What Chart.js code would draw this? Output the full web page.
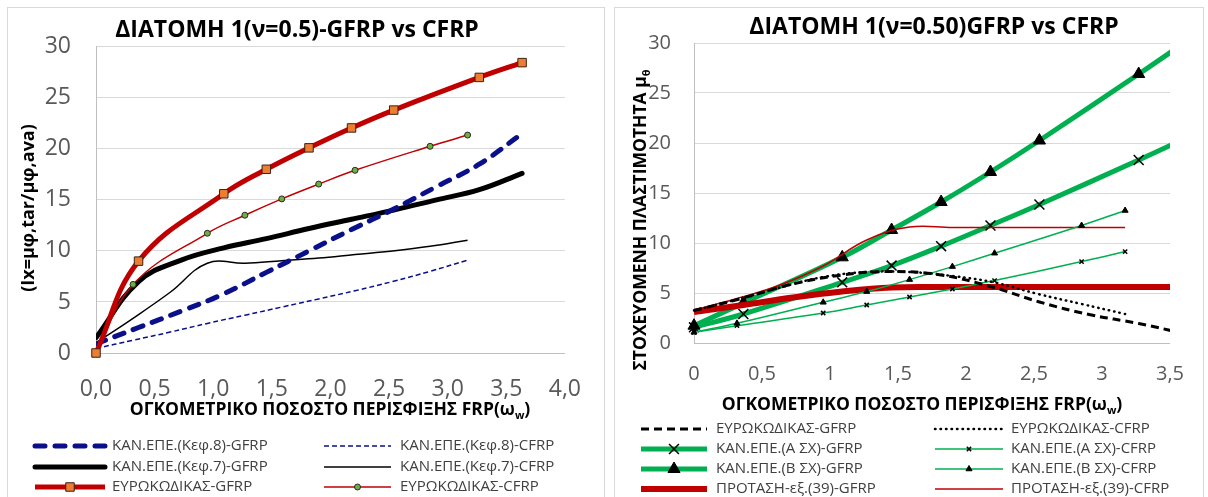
<!DOCTYPE html>
<html lang="el">
<head>
<meta charset="UTF-8">
<title>ΔΙΑΤΟΜΗ 1 — GFRP vs CFRP</title>
<script src="https://cdn.jsdelivr.net/npm/chart.js@4"></script>
<style>
  * { margin: 0; padding: 0; box-sizing: border-box; }
  body { width: 1208px; height: 497px; background: #fff; overflow: hidden; position: relative; }
  .panel { position: absolute; top: 7px; height: 500px; border: 1px solid #d9d9d9; }
  #leftPanel { left: 7px; width: 598px; }
  #rightPanel { left: 614px; width: 590px; }
  canvas { position: absolute; top: 8px; }
  #leftChart { left: 8px; }
  #rightChart { left: 615px; }
</style>
</head>
<body>
<div class="panel" id="leftPanel"></div>
<div class="panel" id="rightPanel"></div>
<canvas id="leftChart" width="596" height="489"></canvas>
<canvas id="rightChart" width="588" height="489"></canvas>

<script>
// ω_w values (shared by both charts)
const xG     = [0, 0.363, 1.09, 1.453, 1.817, 2.18, 2.54, 3.27, 3.635];
const xC     = [0, 0.316, 0.95, 1.27, 1.585, 1.90, 2.21, 2.85, 3.17];
const xGfull = [0, 0.363, 0.727, 1.09, 1.453, 1.817, 2.18, 2.54, 2.905, 3.27, 3.635];
const xCfull = [0, 0.316, 0.633, 0.95, 1.27, 1.585, 1.90, 2.21, 2.53, 2.85, 3.17];

// left chart: Ιx = μφ,tar / μφ,ava
const kep8G = [0.9, 2.5, 4.1, 5.8, 7.9, 10.0, 12.1, 14.1, 16.3, 18.5, 21.5];
const kep8C = [0.45, 1.25, 2.05, 2.9, 3.7, 4.5, 5.3, 6.1, 7.0, 8.0, 9.1];
const kep7G = [1.5, 7.0, 9.1, 10.3, 11.2, 12.2, 13.1, 14.0, 15.0, 16.0, 17.6];
const kep7C = [1.0, 3.4, 5.95, 8.8, 8.8, 9.05, 9.3, 9.65, 10.0, 10.45, 11.05];
const euroG = [0, 9.0, 15.6, 18.0, 20.1, 22.05, 23.8, 27.0, 28.45];
const euroC = [0, 6.72, 11.73, 13.5, 15.1, 16.55, 17.9, 20.25, 21.35];

// right chart: μθ
const ecRG  = [3.25, 4.5, 5.9, 6.8, 7.15, 6.8, 5.65, 4.1, 2.85, 1.95, 0.85];
const ecRC  = [3.25, 4.35, 5.55, 6.6, 7.1, 7.1, 6.7, 6.05, 4.9, 3.9, 2.9];
const aSxG  = [1.57, 2.9, 6.07, 7.74, 9.68, 11.75, 13.85, 18.3, 20.6];
const aSxC  = [1.07, 1.73, 3.0, 3.8, 4.6, 5.4, 6.24, 8.14, 9.14];
const bSxG  = [1.73, 4.0, 8.57, 11.3, 14.1, 17.1, 20.25, 26.9, 30.3];
const bSxC  = [1.07, 1.97, 4.07, 5.14, 6.34, 7.64, 8.98, 11.75, 13.25];
const protG = [3.1, 3.8, 4.55, 5.15, 5.55, 5.6, 5.6, 5.6, 5.6, 5.6, 5.6];
const protC = [3.3, 4.45, 5.8, 7.7, 10.3, 11.6, 11.55, 11.55, 11.55, 11.55, 11.55];

const FONT = "'Open Sans', 'Noto Sans', sans-serif";
const RED = '#c00000', NAVY = '#0a108a', GREEN = '#00b050';

const pts = (xs, ys) => xs.map((x, i) => ({ x, y: ys[i] }));

function line(label, data, style) {
  return Object.assign({ label, data, pointRadius: 0, tension: 0.4, fill: false, borderCapStyle: 'butt' }, style);
}

// text with an optional subscript part, centred on (x, y)
function drawParts(ctx, parts, x, y, size, weight, angle) {
  const main = `${weight} ${size}px ${FONT}`;
  const sub = `${weight} ${Math.round(size * 0.65)}px ${FONT}`;
  let w = 0;
  parts.forEach(([t, s]) => { ctx.font = s ? sub : main; w += ctx.measureText(t).width; });
  ctx.save();
  ctx.translate(x, y);
  ctx.rotate(angle || 0);
  ctx.textAlign = 'left';
  ctx.textBaseline = 'middle';
  let cx = -w / 2;
  parts.forEach(([t, s]) => {
    ctx.font = s ? sub : main;
    ctx.fillText(t, cx, s ? size * 0.32 : 0);
    cx += ctx.measureText(t).width;
  });
  ctx.restore();
}

const decor = {
  id: 'decor',
  afterDraw(chart, args, o) {
    const ctx = chart.ctx;
    ctx.save();
    ctx.fillStyle = '#000';
    drawParts(ctx, [[o.title]], o.titleX, o.titleY, o.titleSize, 'bold');
    drawParts(ctx, o.xTitle, o.xTitleX, o.xTitleY, o.axisSize, 'bold');
    drawParts(ctx, o.yTitle, o.yTitleX, o.yTitleY, o.yAxisSize, 'bold', -Math.PI / 2);

    // two-column legend
    o.legend.forEach(([di, col, row]) => {
      const ds = chart.data.datasets[di];
      const c = o.cols[col], y = o.rows[row];
      ctx.save();
      ctx.strokeStyle = ds.borderColor;
      ctx.lineWidth = ds.borderWidth;
      ctx.lineCap = ds.borderCapStyle || 'butt';
      ctx.setLineDash(ds.borderDash || []);
      ctx.beginPath();
      ctx.moveTo(c.x1, y);
      ctx.lineTo(c.x2, y);
      ctx.stroke();
      if (ds.pointRadius > 0) {
        ctx.setLineDash([]);
        ctx.fillStyle = ds.pointBackgroundColor;
        ctx.strokeStyle = ds.pointBorderColor;
        ctx.lineWidth = ds.pointBorderWidth;
        Chart.helpers.drawPoint(ctx, { pointStyle: ds.pointStyle, radius: ds.pointRadius,
          borderWidth: ds.pointBorderWidth, rotation: 0 }, (c.x1 + c.x2) / 2, y);
      }
      ctx.restore();
      ctx.fillStyle = '#404040';
      ctx.font = `${o.legendSize}px ${FONT}`;
      ctx.textAlign = 'left';
      ctx.textBaseline = 'middle';
      ctx.fillText(ds.label, c.tx, y);
    });
    ctx.restore();
  }
};

function axes(xMax, tickSize, yWidth, xHeight, yPad, xPad, fmt) {
  return {
    x: {
      type: 'linear', min: 0, max: xMax,
      grid: { display: false, drawTicks: false },
      border: { display: true, color: '#bfbfbf' },
      ticks: { stepSize: 0.5, padding: xPad, color: '#595959', font: { size: tickSize, family: FONT }, callback: fmt, maxRotation: 0 },
      afterFit: s => { s.height = xHeight; }
    },
    y: {
      min: 0, max: 30,
      grid: { color: '#d9d9d9', drawTicks: false },
      border: { display: true, color: '#bfbfbf' },
      ticks: { stepSize: 5, padding: yPad, color: '#595959', font: { size: tickSize, family: FONT } },
      afterFit: s => { s.width = yWidth; }
    }
  };
}

// ---------- left chart ----------
new Chart(document.getElementById('leftChart'), {
  type: 'line',
  data: {
    datasets: [
      line('ΕΥΡΩΚΩΔΙΚΑΣ-GFRP', pts(xG, euroG), { borderColor: RED, borderWidth: 5, pointRadius: 6, pointStyle: 'rect',
        pointBackgroundColor: '#ed7d31', pointBorderColor: '#3b2314', pointBorderWidth: 1, clip: false }),
      line('ΕΥΡΩΚΩΔΙΚΑΣ-CFRP', pts(xC, euroC), { borderColor: RED, borderWidth: 1.5, pointRadius: 3, pointStyle: 'circle',
        pointBackgroundColor: '#70ad47', pointBorderColor: '#2b2b1a', pointBorderWidth: 1, clip: false }),
      line('ΚΑΝ.ΕΠΕ.(Κεφ.8)-GFRP', pts(xGfull, kep8G), { borderColor: NAVY, borderWidth: 5, borderDash: [10, 10], borderCapStyle: 'round' }),
      line('ΚΑΝ.ΕΠΕ.(Κεφ.8)-CFRP', pts(xCfull, kep8C), { borderColor: NAVY, borderWidth: 1.5, borderDash: [5, 3] }),
      line('ΚΑΝ.ΕΠΕ.(Κεφ.7)-GFRP', pts(xGfull, kep7G), { borderColor: '#000', borderWidth: 5, borderCapStyle: 'round' }),
      line('ΚΑΝ.ΕΠΕ.(Κεφ.7)-CFRP', pts(xCfull, kep7C), { borderColor: '#000', borderWidth: 1.5 })
    ]
  },
  options: {
    responsive: false, animation: false, events: [],
    layout: { padding: { top: 34, right: 31, left: 0, bottom: 0 } },
    scales: axes(4, 23, 88, 144, 25, 23, v => v.toFixed(1).replace('.', ',')),
    plugins: {
      legend: { display: false },
      tooltip: { enabled: false },
      decor: {
        title: 'ΔΙΑΤΟΜΗ 1(ν=0.5)-GFRP vs CFRP', titleX: 289, titleY: 22, titleSize: 23,
        xTitle: [['ΟΓΚΟΜΕΤΡΙΚΟ ΠΟΣΟΣΤΟ ΠΕΡΙΣΦΙΞΗΣ FRP(ω'], ['w', true], [')']], xTitleX: 322, xTitleY: 402, axisSize: 17.5,
        yTitle: [['(Ιx=μφ,tar/μφ,ava)']], yTitleX: 21, yTitleY: 200, yAxisSize: 18,
        legendSize: 15,
        cols: [{ x1: 27, x2: 97, tx: 104 }, { x1: 316, x2: 383, tx: 392 }],
        rows: [438, 459, 479],
        legend: [[2, 0, 0], [3, 1, 0], [4, 0, 1], [5, 1, 1], [0, 0, 2], [1, 1, 2]]
      }
    }
  },
  plugins: [decor]
});

// ---------- right chart ----------
const rClip = { left: 12, top: 0, right: 0, bottom: 12 };
new Chart(document.getElementById('rightChart'), {
  type: 'line',
  data: {
    datasets: [
      line('ΕΥΡΩΚΩΔΙΚΑΣ-GFRP', pts(xGfull, ecRG), { borderColor: '#000', borderWidth: 3, borderDash: [8, 5], clip: rClip }),
      line('ΕΥΡΩΚΩΔΙΚΑΣ-CFRP', pts(xCfull, ecRC), { borderColor: '#000', borderWidth: 2.5, borderDash: [0.5, 5], borderCapStyle: 'round', clip: rClip }),
      line('ΚΑΝ.ΕΠΕ.(Β ΣΧ)-CFRP', pts(xC, bSxC), { borderColor: GREEN, borderWidth: 1.5, pointRadius: 3.5, pointStyle: 'triangle',
        pointBackgroundColor: '#000', pointBorderColor: '#000', pointBorderWidth: 1, clip: rClip }),
      line('ΚΑΝ.ΕΠΕ.(Α ΣΧ)-CFRP', pts(xC, aSxC), { borderColor: GREEN, borderWidth: 1.5, pointRadius: 3, pointStyle: 'crossRot',
        pointBackgroundColor: '#000', pointBorderColor: '#000', pointBorderWidth: 1.5, clip: rClip }),
      line('ΠΡΟΤΑΣΗ-εξ.(39)-CFRP', pts(xCfull, protC), { borderColor: RED, borderWidth: 1.5, clip: rClip }),
      line('ΠΡΟΤΑΣΗ-εξ.(39)-GFRP', pts(xGfull, protG), { borderColor: RED, borderWidth: 6, clip: rClip }),
      line('ΚΑΝ.ΕΠΕ.(Β ΣΧ)-GFRP', pts(xG, bSxG), { borderColor: GREEN, borderWidth: 5, pointRadius: 7, pointStyle: 'triangle',
        pointBackgroundColor: '#000', pointBorderColor: '#000', pointBorderWidth: 1, clip: rClip }),
      line('ΚΑΝ.ΕΠΕ.(Α ΣΧ)-GFRP', pts(xG, aSxG), { borderColor: GREEN, borderWidth: 5, pointRadius: 7, pointStyle: 'crossRot',
        pointBackgroundColor: '#000', pointBorderColor: '#000', pointBorderWidth: 1.5, clip: rClip })
    ]
  },
  options: {
    responsive: false, animation: false, events: [],
    layout: { padding: { top: 35, right: 21, left: 0, bottom: 0 } },
    scales: axes(3.5, 20, 79, 154, 23, 19, v => String(v).replace('.', ',')),
    plugins: {
      legend: { display: false },
      tooltip: { enabled: false },
      decor: {
        title: 'ΔΙΑΤΟΜΗ 1(ν=0.50)GFRP vs CFRP', titleX: 319, titleY: 19, titleSize: 23,
        xTitle: [['ΟΓΚΟΜΕΤΡΙΚΟ ΠΟΣΟΣΤΟ ΠΕΡΙΣΦΙΞΗΣ FRP(ω'], ['w', true], [')']], xTitleX: 307, xTitleY: 397, axisSize: 17.5,
        yTitle: [['ΣΤΟΧΕΥΟΜΕΝΗ ΠΛΑΣΤΙΜΟΤΗΤΑ μ'], ['θ', true]], yTitleX: 26, yTitleY: 212, yAxisSize: 17.5,
        legendSize: 15,
        cols: [{ x1: 26, x2: 92, tx: 101 }, { x1: 320, x2: 388, tx: 396 }],
        rows: [421, 441, 461, 481],
        legend: [[0, 0, 0], [1, 1, 0], [7, 0, 1], [3, 1, 1], [6, 0, 2], [2, 1, 2], [5, 0, 3], [4, 1, 3]]
      }
    }
  },
  plugins: [decor]
});
</script>
</body>
</html>
